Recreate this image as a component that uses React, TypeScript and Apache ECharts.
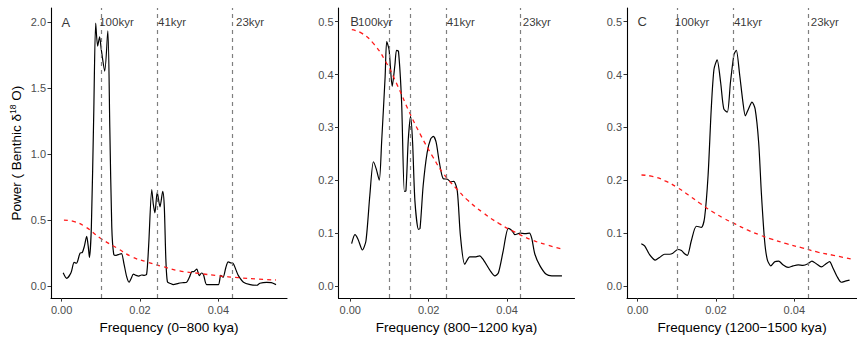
import React, { useEffect, useRef } from "react";
import * as echarts from "echarts";

const FONT = '"Liberation Sans", Arial, Helvetica, sans-serif';

// Panel A (0-800 kya)
const freqA = [0.0004, 0.0013, 0.0024, 0.0032, 0.0038, 0.0047, 0.0053, 0.0058, 0.0064, 0.0068, 0.0071, 0.0076, 0.0082, 0.0087, 0.0092, 0.0097, 0.0101, 0.0110, 0.0118, 0.0123, 0.0128, 0.0133, 0.0139, 0.0147, 0.0153, 0.0159, 0.0166, 0.0172, 0.0178, 0.0183, 0.0190, 0.0197, 0.0204, 0.0211, 0.0217, 0.0222, 0.0230, 0.0234, 0.0238, 0.0244, 0.0251, 0.0258, 0.0262, 0.0266, 0.0270, 0.0278, 0.0285, 0.0298, 0.0310, 0.0319, 0.0326, 0.0332, 0.0338, 0.0345, 0.0351, 0.0357, 0.0362, 0.0370, 0.0385, 0.0400, 0.0406, 0.0412, 0.0419, 0.0425, 0.0431, 0.0438, 0.0445, 0.0451, 0.0464, 0.0481, 0.0498, 0.0506, 0.0523, 0.0535, 0.0547];
const powerA = [0.10, 0.058, 0.10, 0.178, 0.172, 0.248, 0.255, 0.30, 0.376, 0.30, 0.216, 0.45, 1.3, 1.995, 1.82, 1.89, 1.80, 1.63, 1.935, 1.2, 0.45, 0.24, 0.232, 0.24, 0.245, 0.17, 0.07, 0.028, 0.06, 0.09, 0.08, 0.075, 0.083, 0.08, 0.09, 0.3, 0.73, 0.62, 0.555, 0.71, 0.60, 0.717, 0.6, 0.2, 0.03, 0.018, 0.01, 0.02, 0.025, 0.028, 0.065, 0.108, 0.11, 0.128, 0.078, 0.098, 0.085, 0.01, 0.01, 0.01, 0.08, 0.065, 0.14, 0.183, 0.175, 0.17, 0.12, 0.078, 0.028, 0.01, 0.005, 0.02, 0.027, 0.025, 0.01];
const redFreqA = [0.0006, 0.003, 0.006, 0.010, 0.014, 0.018, 0.022, 0.026, 0.030, 0.035, 0.040, 0.045, 0.050, 0.0547];
const redA = [0.50, 0.49, 0.45, 0.36, 0.29, 0.22, 0.18, 0.145, 0.115, 0.095, 0.077, 0.063, 0.052, 0.045];

// Panel B (800-1200 kya)
const freqB = [0.00035, 0.0012, 0.0020, 0.0031, 0.0040, 0.0050, 0.0059, 0.0066, 0.0074, 0.0080, 0.0089, 0.0093, 0.0099, 0.0107, 0.0114, 0.0118, 0.0123, 0.0131, 0.0138, 0.0142, 0.0148, 0.0154, 0.0159, 0.0165, 0.0174, 0.0178, 0.0186, 0.0196, 0.0205, 0.0212, 0.0219, 0.0227, 0.0237, 0.0248, 0.0256, 0.0264, 0.0273, 0.0281, 0.0292, 0.0305, 0.0318, 0.0330, 0.0340, 0.0356, 0.0369, 0.0378, 0.0390, 0.0403, 0.0412, 0.0420, 0.0433, 0.0446, 0.0457, 0.0463, 0.0471, 0.0484, 0.0500, 0.0514, 0.0527, 0.0540];
const powerB = [0.08, 0.097, 0.088, 0.068, 0.085, 0.172, 0.235, 0.222, 0.20, 0.272, 0.397, 0.4626, 0.447, 0.378, 0.419, 0.446, 0.444, 0.347, 0.179, 0.18, 0.277, 0.321, 0.272, 0.16, 0.107, 0.109, 0.19, 0.252, 0.278, 0.283, 0.272, 0.235, 0.203, 0.202, 0.197, 0.198, 0.18, 0.095, 0.041, 0.055, 0.055, 0.057, 0.049, 0.03, 0.019, 0.025, 0.066, 0.109, 0.105, 0.097, 0.10, 0.099, 0.10, 0.09, 0.06, 0.038, 0.022, 0.019, 0.019, 0.019];
const redFreqB = [0.0004, 0.003, 0.006, 0.009, 0.012, 0.015, 0.018, 0.021, 0.024, 0.027, 0.030, 0.034, 0.038, 0.042, 0.046, 0.050, 0.054];
const redB = [0.485, 0.478, 0.458, 0.425, 0.38, 0.33, 0.285, 0.245, 0.21, 0.185, 0.162, 0.138, 0.118, 0.102, 0.088, 0.078, 0.07];

// Panel C (1200-1500 kya)
const freqC = [0.00095, 0.0018, 0.0030, 0.0045, 0.0056, 0.0069, 0.0082, 0.0090, 0.0103, 0.0112, 0.0120, 0.0127, 0.0137, 0.0150, 0.0163, 0.0171, 0.0180, 0.0188, 0.0195, 0.0203, 0.0212, 0.0220, 0.0229, 0.0237, 0.0246, 0.0252, 0.0260, 0.0269, 0.0275, 0.0283, 0.0292, 0.0300, 0.0309, 0.0316, 0.0324, 0.0331, 0.0340, 0.0350, 0.0360, 0.0371, 0.0384, 0.0397, 0.0410, 0.0422, 0.0435, 0.0445, 0.0456, 0.0469, 0.0481, 0.0490, 0.0498, 0.0509, 0.0520, 0.0530, 0.0541];
const powerC = [0.08, 0.076, 0.06, 0.049, 0.054, 0.06, 0.06, 0.062, 0.069, 0.067, 0.061, 0.058, 0.085, 0.113, 0.111, 0.129, 0.21, 0.335, 0.41, 0.428, 0.385, 0.335, 0.329, 0.385, 0.438, 0.446, 0.403, 0.347, 0.322, 0.335, 0.348, 0.335, 0.272, 0.175, 0.087, 0.05, 0.038, 0.046, 0.047, 0.04, 0.035, 0.038, 0.04, 0.039, 0.042, 0.047, 0.042, 0.036, 0.042, 0.046, 0.035, 0.018, 0.007, 0.009, 0.011];
const redFreqC = [0.001, 0.004, 0.007, 0.010, 0.013, 0.016, 0.019, 0.022, 0.025, 0.028, 0.031, 0.034, 0.038, 0.042, 0.046, 0.050, 0.0545];
const redC = [0.21, 0.207, 0.199, 0.187, 0.172, 0.156, 0.141, 0.128, 0.117, 0.106, 0.097, 0.089, 0.08, 0.072, 0.064, 0.058, 0.051];

// Cycle reference lines
const cyclesA = [0.01, 1 / 41, 1 / 23];
const cyclesB = [0.01, 0.0153, 1 / 41, 1 / 23];
const cyclesC = [0.01, 1 / 41, 1 / 23];

// Annotation labels
const panelLetters = ["A", "B", "C"];
const kyrLabels = ["100kyr", "41kyr", "23kyr"];
const kyrLabelXA = [0.0096, 0.0246, 0.0445];
const kyrLabelXB = [0.002, 0.0246, 0.044];
const kyrLabelXC = [0.0095, 0.0246, 0.0442];
const labelY = [2.0, 0.5, 0.5];

const xTitles = ["Frequency (0\u2212800 kya)", "Frequency (800\u22121200 kya)", "Frequency (1200\u22121500 kya)"];
const xTicks = [0, 0.02, 0.04];
const yTicksA = [0, 0.5, 1.0, 1.5, 2.0];
const yTicksBC = [0, 0.1, 0.2, 0.3, 0.4, 0.5];

const pairs = (xs: number[], ys: number[]) => xs.map((x, i) => [x, ys[i]]);

export default function App() {
  const ref = useRef<HTMLDivElement>(null);
  useEffect(() => {
    if (!ref.current) return;
    const chart = echarts.init(ref.current, null, { renderer: "svg" });

    const grids = [
      { left: 51, top: 8, width: 236, height: 293 },
      { left: 338.5, top: 8, width: 236, height: 293 },
      { left: 627, top: 8, width: 230, height: 293 },
    ];
    const xRanges = [
      [-0.0027, 0.0575],
      [-0.003, 0.0572],
      [-0.0027, 0.056],
    ];
    const yRanges = [
      [-0.0924, 2.109],
      [-0.023, 0.526],
      [-0.023, 0.526],
    ];

    const axisLine = { show: true, onZero: false, lineStyle: { color: "#000", width: 1.1 } };
    const axisTickStyle = { lineStyle: { color: "#333", width: 1 } };

    const xAxes = [0, 1, 2].map((i) => ({
      type: "value",
      gridIndex: i,
      min: xRanges[i][0],
      max: xRanges[i][1],
      axisLine,
      axisTick: { show: true, length: 3.5, customValues: xTicks, ...axisTickStyle },
      axisLabel: {
        customValues: xTicks,
        formatter: (v: number) => v.toFixed(2),
        color: "#4d4d4d",
        fontSize: 11,
        fontFamily: FONT,
        margin: 6,
      },
      splitLine: { show: false },
      name: xTitles[i],
      nameLocation: "middle",
      nameGap: 19,
      nameTextStyle: { color: "#000", fontSize: 13.5, fontFamily: FONT },
    }));

    const yAxes = [0, 1, 2].map((i) => ({
      type: "value",
      gridIndex: i,
      min: yRanges[i][0],
      max: yRanges[i][1],
      axisLine,
      axisTick: { show: true, length: 3.5, customValues: i === 0 ? yTicksA : yTicksBC, ...axisTickStyle },
      axisLabel: {
        customValues: i === 0 ? yTicksA : yTicksBC,
        formatter: (v: number) => v.toFixed(1),
        color: "#4d4d4d",
        fontSize: 11,
        fontFamily: FONT,
        margin: 5,
      },
      splitLine: { show: false },
      ...(i === 0
        ? {
            name: "Power ( Benthic \u03b4{sup|18} O)",
            nameLocation: "middle",
            nameGap: 27,
            nameRotate: 90,
            nameTextStyle: {
              color: "#000",
              fontSize: 13.5,
              fontFamily: FONT,
              rich: {
                sup: { fontSize: 8.5, fontFamily: FONT, color: "#000", verticalAlign: "top", padding: [0, 0, 7, 0] },
              },
            },
          }
        : {}),
    }));

    const blacks = [pairs(freqA, powerA), pairs(freqB, powerB), pairs(freqC, powerC)];
    const reds = [pairs(redFreqA, redA), pairs(redFreqB, redB), pairs(redFreqC, redC)];
    const cycles = [cyclesA, cyclesB, cyclesC];
    const kyrX = [kyrLabelXA, kyrLabelXB, kyrLabelXC];

    const series: any[] = [];
    for (let i = 0; i < 3; i++) {
      series.push({
        type: "line",
        xAxisIndex: i,
        yAxisIndex: i,
        data: [[0, 0]],
        symbol: "none",
        lineStyle: { opacity: 0 },
        silent: true,
        z: 1,
        markLine: {
          silent: true,
          precision: 6,
          symbol: ["none", "none"],
          label: { show: false },
          lineStyle: { type: [4, 4], color: "#7f7f7f", width: 1.2 },
          data: cycles[i].map((c) => ({ xAxis: c })),
        },
      });
      series.push({
        type: "line",
        xAxisIndex: i,
        yAxisIndex: i,
        data: blacks[i],
        symbol: "none",
        showSymbol: false,
        smooth: 0.25,
        lineStyle: { color: "#000", width: 1.2 },
        silent: true,
        z: 3,
      });
      series.push({
        type: "line",
        xAxisIndex: i,
        yAxisIndex: i,
        data: reds[i],
        symbol: "none",
        showSymbol: false,
        smooth: true,
        lineStyle: { color: "#ff1a1a", width: 1.3, type: [4, 4] },
        silent: true,
        z: 4,
      });
      series.push({
        type: "scatter",
        xAxisIndex: i,
        yAxisIndex: i,
        symbolSize: 0,
        silent: true,
        z: 5,
        data: [
          { name: panelLetters[i], value: [0, labelY[i]], label: { fontSize: 13 } },
          ...kyrLabels.map((t, k) => ({ name: t, value: [kyrX[i][k], labelY[i]] })),
        ],
        label: {
          show: true,
          position: "right",
          distance: 0,
          formatter: "{b}",
          color: "#000",
          fontSize: 11.5,
          fontFamily: FONT,
        },
      });
    }

    chart.setOption({
      animation: false,
      backgroundColor: "#fff",
      grid: grids,
      xAxis: xAxes,
      yAxis: yAxes,
      series,
    });
    return () => chart.dispose();
  }, []);

  return (
    <div
      ref={ref}
      style={{ position: "absolute", left: 0, top: 0, width: 857, height: 339 }}
    />
  );
}
